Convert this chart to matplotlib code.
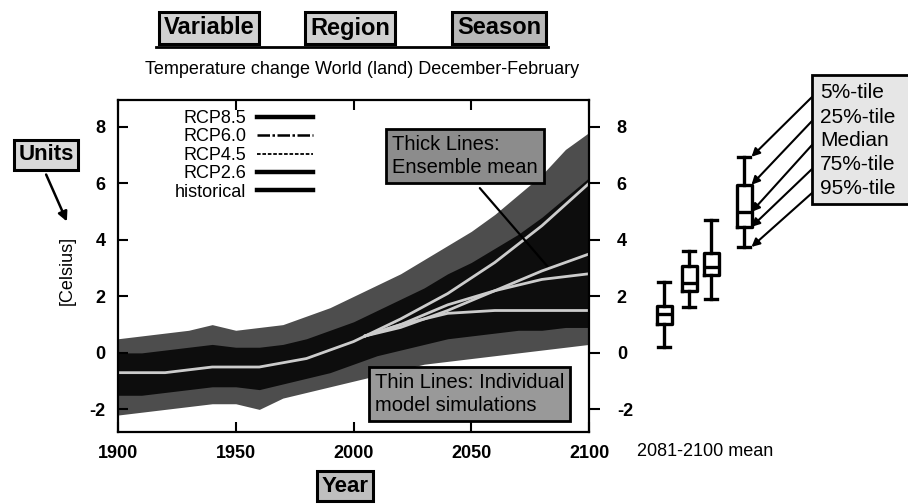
import matplotlib

matplotlib.use("Agg")
import matplotlib.pyplot as plt
from matplotlib.lines import Line2D
from matplotlib.patches import Rectangle

# ---- data ----
YEARS = [1900, 1910, 1920, 1930, 1940, 1950, 1960, 1970, 1980, 1990, 2000,
         2010, 2020, 2030, 2040, 2050, 2060, 2070, 2080, 2090, 2100]
# spread of the individual model simulations (outer envelope / dense core)
ENV_HI = [0.5, 0.6, 0.7, 0.8, 1.0, 0.8, 0.9, 1.0, 1.3, 1.6, 2.0,
          2.4, 2.8, 3.3, 3.8, 4.3, 4.9, 5.6, 6.3, 7.2, 7.8]
ENV_LO = [-2.2, -2.1, -2.0, -1.9, -1.8, -1.8, -2.0, -1.6, -1.4, -1.2, -1.0,
          -0.8, -0.6, -0.4, -0.3, -0.2, -0.1, 0.0, 0.1, 0.2, 0.3]
CORE_HI = [0.0, 0.0, 0.1, 0.2, 0.3, 0.2, 0.2, 0.3, 0.5, 0.8, 1.1,
           1.5, 1.9, 2.3, 2.8, 3.2, 3.7, 4.2, 4.8, 5.5, 6.2]
CORE_LO = [-1.5, -1.5, -1.4, -1.3, -1.2, -1.2, -1.3, -1.1, -0.9, -0.7, -0.4,
           -0.1, 0.1, 0.3, 0.5, 0.6, 0.7, 0.8, 0.8, 0.9, 0.9]

HIST_YEARS = [1900, 1920, 1940, 1960, 1980, 2000, 2005]
HIST_MEAN = [-0.7, -0.7, -0.5, -0.5, -0.2, 0.4, 0.6]
RCP_YEARS = [2005, 2020, 2040, 2060, 2080, 2100]
RCP85 = [0.6, 1.2, 2.1, 3.2, 4.5, 6.0]
RCP60 = [0.6, 0.9, 1.5, 2.2, 2.9, 3.5]
RCP45 = [0.6, 1.0, 1.7, 2.2, 2.6, 2.8]
RCP26 = [0.6, 1.0, 1.4, 1.5, 1.5, 1.5]

LEGEND_NAMES = ["RCP8.5", "RCP6.0", "RCP4.5", "RCP2.6", "historical"]

# 2081-2100 mean distribution: RCP2.6, RCP4.5, RCP6.0, RCP8.5
P05 = [0.21, 1.63, 1.91, 3.75]
P25 = [1.03, 2.20, 2.76, 4.46]
P50 = [1.38, 2.48, 3.05, 4.99]
P75 = [1.66, 3.08, 3.54, 5.95]
P95 = [2.51, 3.60, 4.70, 6.94]
PCTL_LABELS = ["5%-tile", "25%-tile", "Median", "75%-tile", "95%-tile"]

# ---- layout (pixels of a 908x504 canvas) ----
W, H = 908, 504
plt.rcParams["font.family"] = ["Liberation Sans", "DejaVu Sans"]
plt.rcParams["axes.unicode_minus"] = False


def fx(x):
    return x / W


def fy(y):
    return 1 - y / H


def label_box(fig, x, y, text, size, fc):
    fig.text(fx(x), fy(y), text, ha="center", va="center", fontsize=size,
             fontweight="bold",
             bbox=dict(boxstyle="square,pad=0.2", fc=fc, ec="black", lw=2.2))


fig = plt.figure(figsize=(W / 100, H / 100), dpi=100)
ax = fig.add_axes([fx(118), fy(432), fx(589) - fx(118), fy(100) - fy(432)])
ax.set_xlim(1900, 2100)
ax.set_ylim(-2.8, 8.95)

ax.fill_between(YEARS, ENV_LO, ENV_HI, color="0.3", lw=0)
ax.fill_between(YEARS, CORE_LO, CORE_HI, color="0.05", lw=0)
for xs, ys in ((HIST_YEARS, HIST_MEAN), (RCP_YEARS, RCP26), (RCP_YEARS, RCP45),
               (RCP_YEARS, RCP60), (RCP_YEARS, RCP85)):
    ax.plot(xs, ys, color="0.8", lw=2)

styles = [dict(lw=3.2), dict(lw=1.8, ls=(0, (5, 1, 1, 1))), dict(lw=1.3, ls=(0, (2, 1))),
          dict(lw=3.2), dict(lw=3.2)]
handles = [Line2D([], [], color="black", **st) for st in styles]
ax.legend(handles, LEGEND_NAMES, loc="upper right", markerfirst=False, frameon=False,
          bbox_to_anchor=(fx(313), fy(110)), bbox_transform=fig.transFigure,
          borderpad=0, borderaxespad=0, handlelength=3.1, handletextpad=0.6,
          labelspacing=0.08, fontsize=13)

ax.set_xticks([1900, 1950, 2000, 2050, 2100])
ax.set_yticks([-2, 0, 2, 4, 6, 8])
ax.tick_params(direction="in", length=7, width=1.5, top=True, labelsize=13, pad=9)
for sp in ax.spines.values():
    sp.set_linewidth(1.6)

ax2 = ax.twinx()
ax2.set_ylim(ax.get_ylim())
ax2.set_yticks([-2, 0, 2, 4, 6, 8])
ax2.tick_params(direction="out", length=8, width=1.5, labelsize=13, pad=12)
for sp in ax2.spines.values():
    sp.set_visible(False)
for lab in ax.get_xticklabels() + ax.get_yticklabels() + ax2.get_yticklabels():
    lab.set_fontweight("bold")

# box plots of the 2081-2100 mean
box_x = [1.0, 2.0, 2.88, 4.2]
ax3 = fig.add_axes([fx(600), fy(432), fx(800) - fx(600), fy(100) - fy(432)])
ax3.set_xlim(-1.56, 6.44)
ax3.set_ylim(ax.get_ylim())
ax3.axis("off")
stats = [dict(whislo=a, q1=b, med=c, q3=d, whishi=e, fliers=[])
         for a, b, c, d, e in zip(P05, P25, P50, P75, P95)]
lp = dict(color="black", lw=2.4)
ax3.bxp(stats, positions=box_x, widths=0.6, capwidths=0.45, showfliers=False,
        boxprops=lp, whiskerprops=lp, capprops=lp, medianprops=lp)
fig.text(fx(705), fy(452), "2081-2100 mean", ha="center", va="center", fontsize=13)

# ---- annotations ----
fig.text(fx(362), fy(70), "Temperature change World (land) December-February",
         ha="center", va="center", fontsize=13)
fig.text(fx(67), fy(270), "[Celsius]", rotation=90, ha="center", va="center", fontsize=13)

label_box(fig, 209, 28, "Variable", 17, "0.82")
label_box(fig, 350, 28, "Region", 17, "0.82")
label_box(fig, 499, 28, "Season", 17, "0.72")
fig.add_artist(Line2D([fx(156), fx(548)], [fy(47), fy(47)], color="black", lw=2))
label_box(fig, 46, 155, "Units", 16, "0.85")
label_box(fig, 345, 486, "Year", 16, "0.75")
ax.annotate("", xy=(fx(68), fy(224)), xytext=(fx(45), fy(172)),
            xycoords="figure fraction", textcoords="figure fraction",
            arrowprops=dict(arrowstyle="-|>", color="black", lw=1.8, mutation_scale=14))

fig.text(fx(392), fy(156), "Thick Lines:\nEnsemble mean", ha="left", va="center",
         fontsize=14.5, linespacing=1.3,
         bbox=dict(boxstyle="square,pad=0.3", fc="0.55", ec="black", lw=2))
ax.annotate("", xy=(2083, 3.0), xytext=(fx(478), fy(186)),
            textcoords="figure fraction",
            arrowprops=dict(arrowstyle="-", color="black", lw=1.6))
fig.text(fx(375), fy(394), "Thin Lines: Individual\nmodel simulations", ha="left",
         va="center", fontsize=14.5, linespacing=1.3,
         bbox=dict(boxstyle="square,pad=0.3", fc="0.6", ec="black", lw=2))

fig.add_artist(Rectangle((fx(812), fy(204)), fx(110), fy(75) - fy(204),
                         transform=fig.transFigure, fc="0.9", ec="black", lw=2))
targets = [P95[3], P75[3], P50[3], P25[3], P05[3]]
for i, (name, val) in enumerate(zip(PCTL_LABELS, targets)):
    row = 93 + 24 * i
    fig.text(fx(820), fy(row), name, ha="left", va="center", fontsize=15)
    ax3.annotate("", xy=(box_x[3] + 0.3, val), xytext=(fx(812), fy(row + 4)),
                 textcoords="figure fraction",
                 arrowprops=dict(arrowstyle="-|>", color="black", lw=1.5,
                                 mutation_scale=12, shrinkA=0, shrinkB=0))

fig.savefig("out.png", dpi=100)
